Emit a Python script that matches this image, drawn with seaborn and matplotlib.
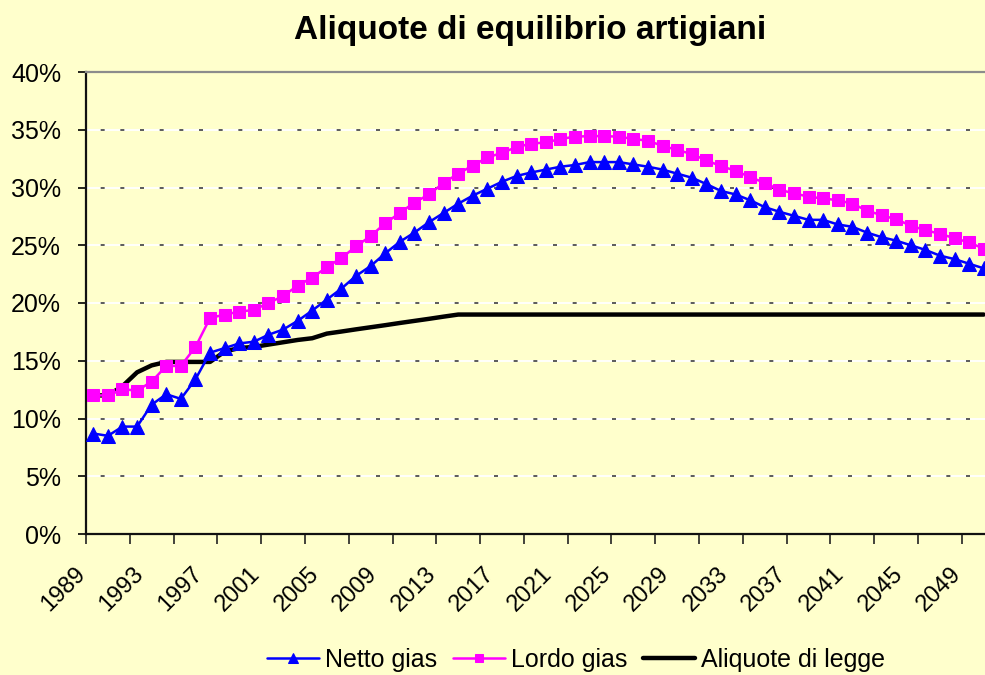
import numpy as np
import pandas as pd
import matplotlib
matplotlib.use("Agg")
import matplotlib.pyplot as plt
import matplotlib.transforms as mtransforms
import seaborn as sns
from matplotlib.ticker import FixedLocator, FuncFormatter

# years on the category axis
years = list(range(1989, 2051))

# Netto gias (%)
netto = [8.7, 8.5, 9.3, 9.3, 11.2, 12.1, 11.7, 13.4, 15.7, 16.1,
         16.5, 16.65, 17.25, 17.7, 18.45, 19.35, 20.3, 21.25, 22.35, 23.2,
         24.3, 25.3, 26.1, 27.0, 27.8, 28.6, 29.3, 29.9, 30.5, 31.0,
         31.3, 31.55, 31.8, 31.95, 32.2, 32.2, 32.2, 32.0, 31.8, 31.55,
         31.2, 30.85, 30.3, 29.7, 29.4, 28.9, 28.3, 27.9, 27.55, 27.2,
         27.2, 26.8, 26.6, 26.1, 25.7, 25.4, 25.0, 24.6, 24.1, 23.8,
         23.4, 23.0]

# Lordo gias (%)
lordo = [12.0, 12.0, 12.55, 12.4, 13.2, 14.55, 14.55, 16.2, 18.7, 19.0,
         19.25, 19.4, 20.0, 20.6, 21.5, 22.2, 23.1, 23.9, 24.9, 25.8,
         26.9, 27.8, 28.7, 29.4, 30.4, 31.2, 31.9, 32.6, 33.0, 33.5,
         33.8, 33.9, 34.2, 34.4, 34.45, 34.45, 34.4, 34.2, 34.05, 33.6,
         33.25, 32.9, 32.35, 31.85, 31.45, 30.9, 30.4, 29.8, 29.5, 29.2,
         29.05, 28.9, 28.6, 28.0, 27.6, 27.25, 26.7, 26.3, 26.0, 25.6,
         25.25, 24.7]

# Aliquote di legge (%)
legge = [12.0, 12.0, 12.8, 14.0, 14.6, 14.9, 14.9, 14.9, 14.9, 15.8,
         16.1, 16.2, 16.4, 16.6, 16.8, 16.95, 17.35, 17.53, 17.72, 17.9,
         18.08, 18.27, 18.45, 18.63, 18.82] + [19.0] * 37

y_ticks = [0, 5, 10, 15, 20, 25, 30, 35, 40]
label_years = years[::4]

bg = "#FFFFCC"
sns.set_style("white", rc={"axes.facecolor": bg, "figure.facecolor": bg,
                            "text.color": "black", "xtick.color": "black",
                            "ytick.color": "black", "axes.labelcolor": "black"})
plt.rcParams["font.family"] = ["Liberation Sans", "DejaVu Sans"]

df = pd.DataFrame({"pos": np.arange(len(years)), "year": years,
                   "netto": netto, "lordo": lordo, "legge": legge})

fig = plt.figure(figsize=(9.85, 6.75), dpi=100)
ax = fig.add_axes([86 / 985, 141 / 675, 905 / 985, 462 / 675])

# gridlines: pale line with dark dashes on top (excel look)
for y in y_ticks[1:-1]:
    ax.axhline(y, color="white", lw=1.3, zorder=0.5)
    ax.axhline(y, color="#404040", lw=1.2, ls=(3, (2.4, 9.4)), zorder=0.6)

sns.lineplot(data=df, x="pos", y="legge", ax=ax, color="black", lw=3.2,
             zorder=2, label="Aliquote di legge")
sns.lineplot(data=df, x="pos", y="netto", ax=ax, color="#0000FF", lw=1.8,
             marker="^", markersize=9.5, markeredgecolor="#0000FF",
             zorder=3, label="Netto gias")
sns.lineplot(data=df, x="pos", y="lordo", ax=ax, color="#FF00FF", lw=1.8,
             marker="s", markersize=8.5, markeredgecolor="#FF00FF",
             zorder=4, label="Lordo gias")

ax.set_xlim(-0.5, len(years) - 0.5)
ax.set_ylim(0, 40)
ax.set_xlabel("")
ax.set_ylabel("")

ax.yaxis.set_major_locator(FixedLocator(y_ticks))
ax.yaxis.set_major_formatter(FuncFormatter(lambda v, p: f"{v:.0f}%"))
ax.tick_params(axis="y", length=6, width=1.2, pad=12, labelsize=18,
               left=True, color="black")

ax.set_xticks([years.index(y) for y in label_years])
ax.set_xticklabels([str(y) for y in label_years], rotation=45,
                   ha="right", va="top", rotation_mode="anchor")
ax.set_xticks(np.arange(-0.5, len(years) - 1, 3), minor=True)
ax.tick_params(axis="x", which="major", length=0, pad=14, labelsize=17)
ax.tick_params(axis="x", which="minor", length=7, width=1.2,
               bottom=True, color="#222222")
shift = mtransforms.ScaledTranslation(-0.19, -0.09, fig.dpi_scale_trans)
for lab in ax.get_xticklabels():
    lab.set_transform(lab.get_transform() + shift)

for side in ["left", "bottom"]:
    ax.spines[side].set_color("#111111")
    ax.spines[side].set_linewidth(1.6)
ax.spines["top"].set_color("#8c8c8c")
ax.spines["top"].set_linewidth(1.6)
ax.spines["right"].set_visible(False)

fig.text(530 / 985, 1 - 30 / 675, "Aliquote di equilibrio artigiani",
         ha="center", va="center", fontsize=24, fontweight="bold")

handles, labels = ax.get_legend_handles_labels()
order = [labels.index(n) for n in ["Netto gias", "Lordo gias", "Aliquote di legge"]]
ax.get_legend().remove()
fig.legend([handles[i] for i in order], [labels[i] for i in order],
           loc="center", bbox_to_anchor=(576 / 985, 1 - 660 / 675), ncol=3,
           frameon=False, fontsize=18, handlelength=2.1, handletextpad=0.25,
           columnspacing=0.6, markerscale=0.75)

fig.savefig("out.png", dpi=100, facecolor=bg)
